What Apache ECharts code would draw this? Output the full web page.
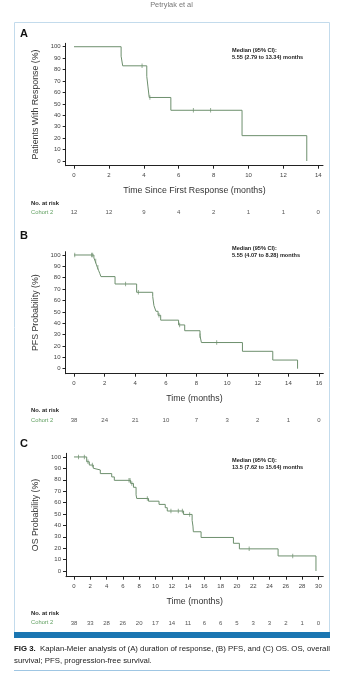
<!DOCTYPE html>
<html><head><meta charset="utf-8">
<script src="https://cdn.jsdelivr.net/npm/echarts@6/dist/echarts.min.js"></script>
<style>html,body{margin:0;padding:0;background:#fff;}#c{width:343px;height:679px;}</style>
</head><body><div id="c"></div>
<script>
// ---- data ----
const ticksA = [0, 2, 4, 6, 8, 10, 12, 14];
const riskA = [12, 12, 9, 4, 2, 1, 1, 0];
const kmA = [[0,100],[2.7,91.7],[2.79,83.3],[4.17,74.1],[4.24,64.8],[4.31,55.6],[5.55,44.4],[9.63,22.2],[13.34,0]];
const censA = [[3.9,83.3],[4.35,55.6],[6.84,44.4],[7.83,44.4]];

const ticksB = [0, 2, 4, 6, 8, 10, 12, 14, 16];
const riskB = [38, 24, 21, 10, 7, 3, 2, 1, 0];
const kmB = [[0,100],[1.3,97.4],[1.38,94.7],[1.45,92.0],[1.52,89.3],[1.6,86.6],[1.68,83.9],[1.76,81.0],
  [2.68,74.5],[4.09,67.2],[5.14,63.5],[5.22,55.5],[5.35,50.5],[5.49,47.0],[5.66,42.7],[6.83,38.5],
  [7.23,33.4],[8.23,28.9],[8.32,23.0],[11.0,15.3],[12.98,7.6],[14.6,0]];
const censB = [[0.05,100],[1.15,100],[1.22,100],[1.42,94.7],[1.56,89.3],[3.37,74.5],[4.2,67.2],[5.55,47.0],[6.9,38.5],[8.23,28.9],[9.32,23.0]];

const ticksC = [0, 2, 4, 6, 8, 10, 12, 14, 16, 18, 20, 22, 24, 26, 28, 30];
const riskC = [38, 33, 28, 26, 20, 17, 14, 11, 6, 6, 5, 3, 3, 2, 1, 0];
const kmC = [[0,100],[1.56,95.8],[1.88,92.9],[2.37,90.1],[2.5,88.6],[3.23,85.4],[4.63,82.5],[4.95,79.5],
  [6.95,76.8],[7.3,73.4],[7.62,66.8],[7.7,63.6],[9.15,61.2],[10.44,58.4],[11.2,55.5],[11.45,52.6],
  [13.45,49.6],[14.5,44.4],[14.6,39.4],[14.65,34.4],[15.6,29.4],[19.57,24.3],[20.3,19.4],[25.05,13.2],[29.7,0]];
const censC = [[0.55,100],[1.27,100],[1.72,95.8],[2.25,92.9],[6.75,79.5],[6.88,79.5],[7.1,76.8],[9.0,63.6],
  [11.9,52.6],[12.8,52.6],[13.3,52.6],[14.2,49.6],[21.5,19.4],[26.85,13.2]];

const yTicks = [0, 10, 20, 30, 40, 50, 60, 70, 80, 90, 100];
const panelLetters = ['A', 'B', 'C'];
const yTitles = ['Patients With Response (%)', 'PFS Probability (%)', 'OS Probability (%)'];
const xTitles = ['Time Since First Response (months)', 'Time (months)', 'Time (months)'];
const medianLines = [
  ['Median (95% CI):', '5.55 (2.79 to 13.34) months'],
  ['Median (95% CI):', '5.55 (4.07 to 8.28) months'],
  ['Median (95% CI):', '13.5 (7.62 to 15.64) months']
];
const captionBold = 'FIG 3.';
const captionLine1 = 'Kaplan-Meier analysis of (A) duration of response, (B) PFS, and (C) OS. OS, overall';
const captionLine2 = 'survival; PFS, progression-free survival.';

// ---- layout ----
const SANS = "'Liberation Sans', Arial, Helvetica, sans-serif";
const TITLE = "'Liberation Sans', Arial, sans-serif";
const LINE = '#6d8f6d';
const GREEN = '#5f9f5f';
const panels = [
  {grid:{left:65.7, top:43.3, width:257.3, height:122.4}, x:[-0.476,14.27], y:[-4.1,103], ticks:ticksA, risk:riskA, km:kmA, cens:censA,
   letterY:33.5, medY:50, riskHeadY:203.3, riskY:212.7},
  {grid:{left:65.5, top:251.7, width:257.8, height:122}, x:[-0.555,16.28], y:[-4.4,102.9], ticks:ticksB, risk:riskB, km:kmB, cens:censB,
   letterY:236, medY:248.3, riskHeadY:410.7, riskY:420},
  {grid:{left:66, top:453.3, width:257.3, height:123.4}, x:[-0.98,30.6], y:[-5,103.2], ticks:ticksC, risk:riskC, km:kmC, cens:censC,
   letterY:444.3, medY:460, riskHeadY:613.3, riskY:622.3}
];

const grids = [], xAxes = [], yAxes = [], series = [], graphics = [];
panels.forEach((p, i) => {
  grids.push(Object.assign({containLabel:false}, p.grid));
  const axisLine = {show:true, onZero:false, lineStyle:{color:'#222', width:1}};
  xAxes.push({
    gridIndex:i, type:'value', min:p.x[0], max:p.x[1], position:'bottom',
    axisLine, splitLine:{show:false},
    axisTick:{show:true, length:3, customValues:p.ticks, lineStyle:{color:'#222'}},
    axisLabel:{show:true, customValues:p.ticks, fontSize:6, color:'#444', fontFamily:SANS, margin:7},
    name:xTitles[i], nameLocation:'middle', nameGap:20,
    nameTextStyle:{fontSize:8.8, color:'#333', fontFamily:TITLE}
  });
  yAxes.push({
    gridIndex:i, type:'value', min:p.y[0], max:p.y[1],
    axisLine, splitLine:{show:false},
    axisTick:{show:true, length:3, customValues:yTicks, lineStyle:{color:'#222'}},
    axisLabel:{show:true, customValues:yTicks, fontSize:6, color:'#444', fontFamily:SANS, margin:5},
    name:yTitles[i], nameLocation:'middle', nameGap:24,
    nameTextStyle:{fontSize:8.8, color:'#333', fontFamily:TITLE}
  });
});
// at-risk axes
panels.forEach((p, i) => {
  xAxes.push({
    gridIndex:i, type:'value', min:p.x[0], max:p.x[1], position:'bottom', offset:36,
    axisLine:{show:false}, axisTick:{show:false}, splitLine:{show:false},
    axisLabel:{show:true, customValues:p.ticks, fontSize:6, color:'#555', fontFamily:SANS, margin:8,
      formatter:(v) => { const k = p.ticks.indexOf(Math.round(v)); return k >= 0 ? String(p.risk[k]) : ''; }}
  });
});
panels.forEach((p, i) => {
  series.push({type:'line', xAxisIndex:i, yAxisIndex:i, step:'end', data:p.km, showSymbol:false, symbol:'none',
    lineStyle:{color:LINE, width:1}, silent:true, animation:false});
  series.push({type:'scatter', xAxisIndex:i, yAxisIndex:i, data:p.cens, symbol:'rect', symbolSize:[0.9,4.5],
    itemStyle:{color:LINE}, silent:true, animation:false});
  graphics.push({type:'text', x:20, y:p.letterY, style:{text:panelLetters[i], fontSize:11, fontWeight:'bold', fill:'#111', fontFamily:SANS, verticalAlign:'middle'}});
  graphics.push({type:'text', x:232, y:p.medY, style:{text:medianLines[i][0], fontSize:5.6, fontWeight:'bold', fill:'#222', fontFamily:SANS, verticalAlign:'middle'}});
  graphics.push({type:'text', x:232, y:p.medY+7.2, style:{text:medianLines[i][1], fontSize:5.6, fontWeight:'bold', fill:'#222', fontFamily:SANS, verticalAlign:'middle'}});
  graphics.push({type:'text', x:31, y:p.riskHeadY, style:{text:'No. at risk', fontSize:5.8, fontWeight:'bold', fill:'#222', fontFamily:SANS, verticalAlign:'middle'}});
  graphics.push({type:'text', x:31, y:p.riskY, style:{text:'Cohort 2', fontSize:5.8, fill:GREEN, fontFamily:SANS, verticalAlign:'middle'}});
});
// frame & caption
graphics.push({type:'text', x:171.5, y:5, style:{text:'Petrylak et al', fontSize:7.4, fill:'#777', fontFamily:SANS, align:'center', verticalAlign:'middle'}});
graphics.push({type:'rect', shape:{x:14.5, y:22.5, width:315, height:610}, style:{fill:'none', stroke:'#c3dbec', lineWidth:1}, z:-1});
graphics.push({type:'rect', shape:{x:14, y:632, width:316, height:6}, style:{fill:'#1a76b2'}});
graphics.push({type:'text', x:14, y:649.3, style:{text:'{b|' + captionBold + '}  ' + captionLine1, fontSize:7.8, fill:'#222', fontFamily:SANS, verticalAlign:'middle',
  rich:{b:{fontWeight:'bold', fontSize:7.8, fill:'#111', fontFamily:SANS}}}});
graphics.push({type:'text', x:14, y:660.7, style:{text:captionLine2, fontSize:7.8, fill:'#222', fontFamily:SANS, verticalAlign:'middle'}});
graphics.push({type:'line', shape:{x1:14, y1:670.5, x2:330, y2:670.5}, style:{stroke:'#9fc6e3', lineWidth:1}});

const chart = echarts.init(document.getElementById('c'), null, {renderer:'canvas'});
chart.setOption({animation:false, grid:grids, xAxis:xAxes, yAxis:yAxes, series, graphic:graphics});
</script></body></html>
